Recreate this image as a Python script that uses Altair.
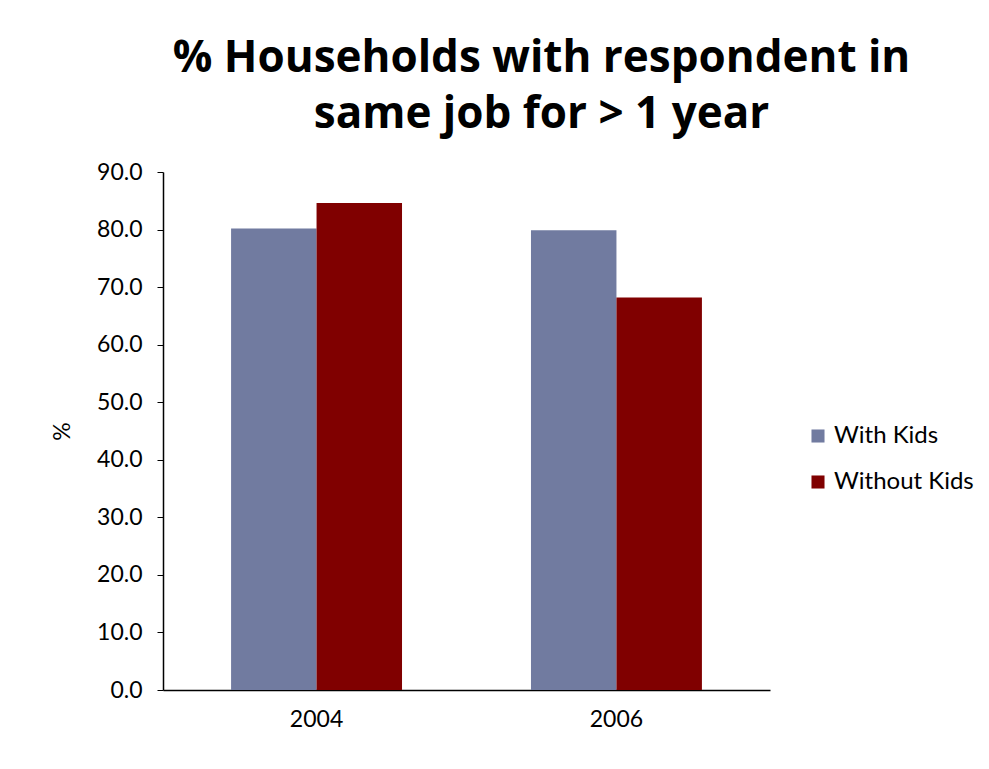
import altair as alt
import pandas as pd

years = ["2004", "2004", "2006", "2006"]
groups = ["With Kids", "Without Kids", "With Kids", "Without Kids"]
values = [80.2, 84.6, 79.9, 68.2]

df = pd.DataFrame({"year": years, "group": groups, "value": values})

group_order = ["With Kids", "Without Kids"]
colors = ["#717ba0", "#800000"]
font = "Lato"

chart = alt.Chart(df).mark_bar().encode(
    x=alt.X("year:N", title=None,
            scale=alt.Scale(paddingInner=0.43, paddingOuter=0.227),
            axis=alt.Axis(labelAngle=0, labelFontSize=23, labelFont=font, labelColor="black",
                          ticks=False, domainColor="black", domainWidth=1.5, labelPadding=18)),
    xOffset=alt.XOffset("group:N", sort=group_order, scale=alt.Scale(paddingInner=0, paddingOuter=0)),
    y=alt.Y("value:Q", title="%",
            scale=alt.Scale(domain=[0, 90], nice=False),
            axis=alt.Axis(values=[0, 10, 20, 30, 40, 50, 60, 70, 80, 90], format=".1f",
                          grid=False, labelFontSize=23, labelFont=font, labelColor="black",
                          tickColor="black", tickSize=6, domainColor="black", domainWidth=1.5,
                          labelPadding=15, titleFontSize=23, titleFont=font,
                          titleFontWeight="normal", titleX=-101, titleY=259, titleAngle=-90,
                          titleAlign="center", titleBaseline="middle", titleColor="black")),
    color=alt.Color("group:N", sort=group_order,
                    scale=alt.Scale(domain=group_order, range=colors),
                    legend=alt.Legend(title=None, orient="none", legendX=643, legendY=252,
                                      symbolType="square", symbolSize=170, symbolStrokeWidth=0,
                                      labelFontSize=24, labelFont=font, labelColor="black",
                                      rowPadding=22, symbolOffset=0, labelOffset=4)),
).properties(
    width=607,
    height=518,
    title=alt.TitleParams(
        text=["% Households with respondent in", "same job for > 1 year"],
        fontSize=44, font="Open Sans", fontWeight="bold", color="black",
        lineHeight=56, anchor="middle", dx=75, offset=24,
    ),
    padding={"left": 155, "top": 164, "right": 211, "bottom": 71},
    autosize=alt.AutoSizeParams(type="none"),
    background="white",
).configure_view(stroke=None)

chart.save("out.html", embed_options={"renderer": "svg", "actions": False})
